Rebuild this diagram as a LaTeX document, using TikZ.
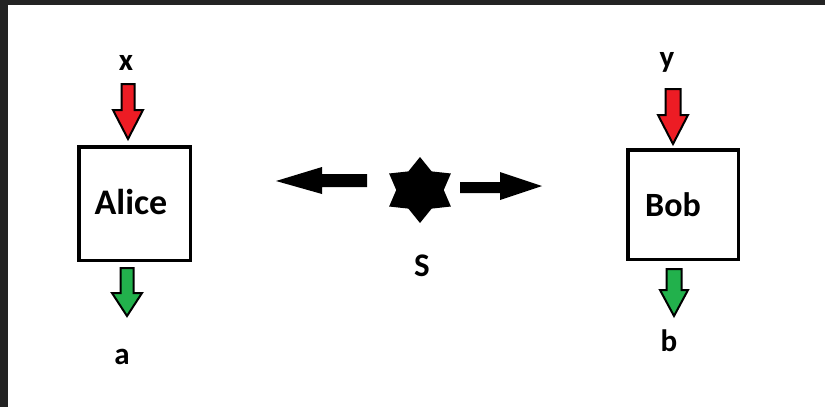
\documentclass[tikz,border=0pt]{standalone}
\usepackage{fontspec}
\setmainfont{Carlito}
\definecolor{frame}{HTML}{232323}
\definecolor{pred}{RGB}{237,28,36}
\definecolor{pgreen}{RGB}{34,177,76}
\newcommand\bdarrow[7]{% cx, top, headstart, tip, shaft half, head half, colour
  \filldraw[blockout, fill=#7] (#1-#5,#2) -- (#1+#5,#2) -- (#1+#5,#3) -- (#1+#6,#3) -- (#1,#4) -- (#1-#6,#3) -- (#1-#5,#3) -- cycle;}
\begin{document}
\begin{tikzpicture}[x=1pt,y=-1pt,
  box/.style={draw=black, line width=3.5pt, fill=white, inner sep=0pt},
  boxname/.style={font=\bfseries\fontsize{34}{34}\selectfont, inner sep=0pt},
  labtext/.style={font=\bfseries\fontsize{31}{31}\selectfont, inner sep=0pt},
  blockout/.style={draw=black, line width=2pt, line join=miter}]
\useasboundingbox (0,0) rectangle (825,407);
\fill[frame] (0,0) rectangle (825,407);
\fill[white] (8,5) rectangle (825,407);
% boxes
\node[box, minimum width=111.5pt, minimum height=113.5pt] (alicebox) at (134.5,203.5) {};
\node[boxname, font=\bfseries\fontsize{36}{36}\selectfont] (alice) at (131,202) {Alice};
\node[box, minimum width=110.5pt, minimum height=109.5pt] (bobbox) at (683,204.5) {};
\node[boxname] (bob) at (673,205) {Bob};
% labels
\node[labtext] (x) at (126,63) {x};
\node[labtext] (y) at (667,62) {y};
\node[labtext] (a) at (122,357) {a};
\node[labtext] (b) at (669,341) {b};
\node[labtext, font=\bfseries\fontsize{33}{33}\selectfont] (s) at (422,266) {S};
% block arrows
\bdarrow{128}{84}{110}{139}{6.5}{15}{pred}
\bdarrow{127}{268}{293}{316}{6.5}{15}{pgreen}
\bdarrow{673}{89}{115}{144}{7.5}{15}{pred}
\bdarrow{674}{269}{290}{316}{7.5}{14}{pgreen}
% source star
\coordinate (source) at (420,190);
\fill[black, shift={(source)}, xscale=1.08]
  (90:33) -- (120:21.5) -- (150:33) -- (180:22) -- (210:33) -- (240:21.5) -- (270:33) -- (300:21.5) -- (330:33) -- (0:22) -- (30:33) -- (60:21.5) -- cycle;
% black arrows
\fill[black] (367,174) -- (322,174) -- (322,167) -- (276,181) -- (322,194) -- (322,187) -- (367,187) -- cycle;
\fill[black] (460,182) -- (500,182) -- (500,172) -- (542,186) -- (500,200) -- (500,193) -- (460,193) -- cycle;
\end{tikzpicture}
\end{document}
